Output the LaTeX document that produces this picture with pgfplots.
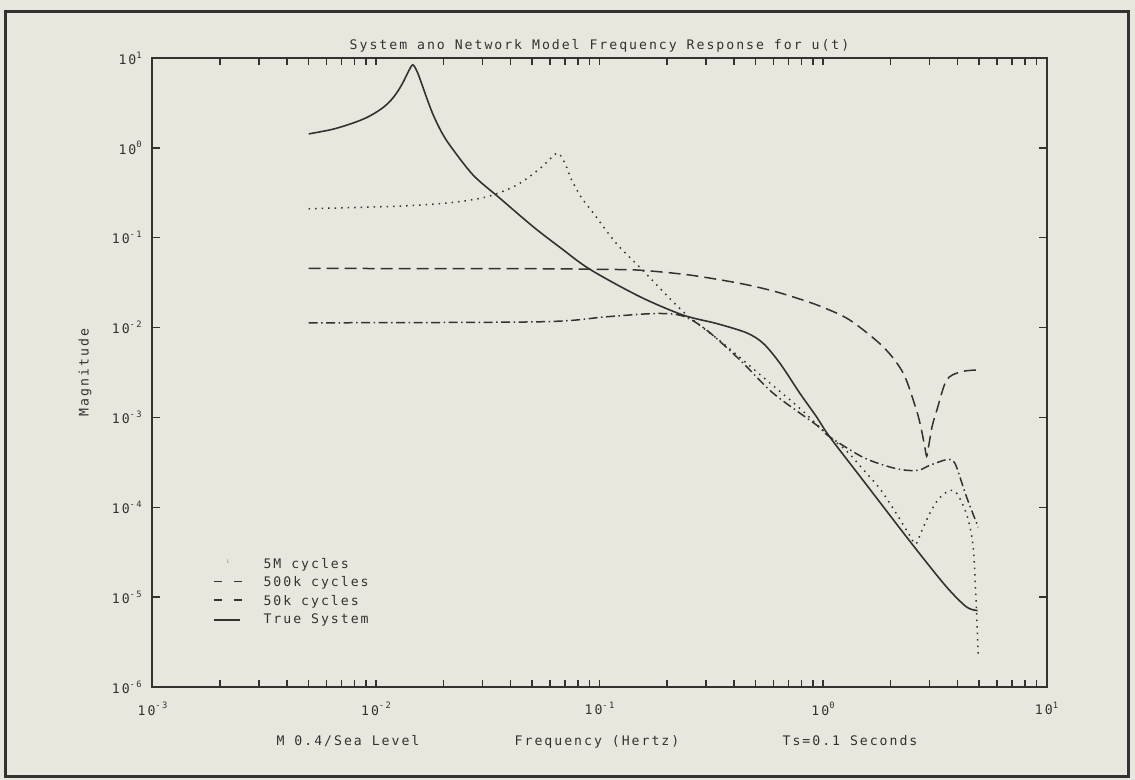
\documentclass[border=0pt]{standalone}
\usepackage{fontspec}
\usepackage{pgfplots}
\pgfplotsset{compat=1.18}
\newfontfamily\plotfont[LetterSpace=15]{DejaVu Sans Mono}
\definecolor{paper}{RGB}{233,231,221}
\definecolor{ink}{RGB}{50,50,50}
\newcommand{\pf}{\plotfont\fontsize{7.5}{9}\selectfont}
\newcommand{\dec}[1]{10\raisebox{0.85ex}{\fontsize{5}{5}\selectfont#1}}

\begin{document}
\begin{tikzpicture}
% paper and frame
\fill[paper] (0,0) rectangle (227mm,-156mm);
\draw[ink, line width=0.6mm] (1mm,-2.4mm) rectangle (225.6mm,-155.2mm);

\begin{axis}[
  at={(30.5mm,-137.4mm)}, anchor=south west,
  width=178.8mm, height=125.8mm, scale only axis,
  xmode=log, ymode=log,
  xmin=1e-3, xmax=10, ymin=1e-6, ymax=10,
  axis line style={ink, line width=0.4mm},
  xtick={1e-3,1e-2,1e-1,1,10},
  xticklabels={\dec{-3},\dec{-2},\dec{-1},\dec{0},\dec{1}},
  minor xtick={2e-3,3e-3,4e-3,5e-3,6e-3,7e-3,8e-3,9e-3,
               0.02,0.03,0.04,0.05,0.06,0.07,0.08,0.09,
               0.2,0.3,0.4,0.5,0.6,0.7,0.8,0.9,
               2,3,4,5,6,7,8,9},
  ytick={1e-6,1e-5,1e-4,1e-3,1e-2,1e-1,1,10},
  yticklabels={\dec{-6},\dec{-5},\dec{-4},\dec{-3},\dec{-2},\dec{-1},\dec{0},\dec{1}},
  yminorticks=false,
  tick style={ink, line width=0.3mm},
  major tick length=1.5mm, minor tick length=1.4mm,
  tick label style={font=\pf, text=ink, inner sep=0pt},
  xticklabel style={anchor=north, yshift=-3mm},
  yticklabel style={anchor=east, xshift=-2.1mm},
  legend style={draw=none, fill=none, at={(0.061,0.211)}, anchor=north west,
    font=\pf, text=ink,
    nodes={inner sep=0pt, text height=2mm, text depth=0.6mm},
    row sep=1.06mm, column sep=4.2mm},
  legend cell align=left,
]

% 5M cycles
\addplot[ink, line width=0.3mm, dash pattern=on 0.3mm off 1.0mm, smooth,
  legend image code/.code={\fill[ink!35] (2.7mm,0.6mm) rectangle (2.85mm,1.2mm);}]
coordinates {
 (0.005,0.21) (0.0128,0.225) (0.0214,0.245) (0.0313,0.285) (0.0426,0.385)
 (0.0542,0.59) (0.0626,0.83) (0.066,0.86) (0.0705,0.65) (0.075,0.44)
 (0.083,0.28) (0.094,0.187) (0.119,0.0863) (0.157,0.0428) (0.237,0.015)
 (0.358,0.00665) (0.56,0.00259) (0.8,0.00122) (1.07,6.1e-4) (1.28,4.2e-4)
 (1.5,2.7e-4) (1.8,1.6e-4) (2.1,9e-5) (2.45,4.8e-5) (2.6,3.9e-5)
 (2.75,5.3e-5) (3.0,8.5e-5) (3.3,1.25e-4) (3.7,1.55e-4) (3.95,1.45e-4)
 (4.2,1.1e-4) (4.45,7.5e-5) (4.7,3.6e-5) (4.85,8e-6) (4.95,2.2e-6)
};
\addlegendentry{5M cycles}

% 500k cycles
\addplot[ink, line width=0.3mm, dash pattern=on 2.4mm off 1.2mm, smooth,
  legend image code/.code={\draw[ink, solid, line width=0.3mm] (0mm,0.3mm) -- (1.6mm,0.3mm) (4mm,0.3mm) -- (5.6mm,0.3mm);}]
coordinates {
 (0.005,0.0455) (0.05,0.0452) (0.1,0.0445) (0.152,0.0435) (0.254,0.0384)
 (0.426,0.031) (0.6,0.0255) (0.8,0.0205) (1.0,0.0168) (1.32,0.0121)
 (1.86,0.0061) (2.29,0.00308) (2.62,0.0012) (2.75,7.5e-4) (2.85,4.8e-4)
 (2.91,3.7e-4) (2.97,4.8e-4) (3.08,8e-4) (3.23,1.2e-3) (3.57,2.6e-3)
 (4.1,3.2e-3) (4.7,3.36e-3) (4.9,3.37e-3)
};
\addlegendentry{500k cycles}

% 50k cycles
\addplot[ink, line width=0.3mm, dash pattern=on 1.8mm off 0.7mm on 0.3mm off 0.7mm, smooth,
  legend image code/.code={\draw[ink, solid, line width=0.3mm] (0mm,0.3mm) -- (1.6mm,0.3mm) (4mm,0.3mm) -- (5.6mm,0.3mm);}]
coordinates {
 (0.005,0.0113) (0.0542,0.0116) (0.1077,0.0132) (0.18,0.01435) (0.237,0.0134)
 (0.302,0.00935) (0.426,0.00434) (0.6,0.00185) (0.937,8.2e-4) (1.07,6.1e-4)
 (1.51,3.6e-4) (2.0,2.8e-4) (2.37,2.58e-4) (2.7,2.6e-4) (3.01,2.94e-4)
 (3.57,3.4e-4) (3.8,3.3e-4) (3.96,2.8e-4) (4.39,1.3e-4) (4.95,6.0e-5)
};
\addlegendentry{50k cycles}

% True System
\addplot[ink, line width=0.32mm, solid, smooth,
  legend image code/.code={\draw[ink, solid, line width=0.45mm] (0mm,0mm) -- (5.2mm,0mm);}]
coordinates {
 (0.005,1.43) (0.0064,1.61) (0.0078,1.87) (0.009,2.15) (0.0101,2.52)
 (0.011,2.94) (0.0118,3.5) (0.0125,4.24) (0.0132,5.33) (0.0139,6.9)
 (0.0146,8.4) (0.0153,7.0) (0.016,5.2) (0.017,3.4) (0.018,2.35) (0.0195,1.55)
 (0.0214,1.07) (0.0272,0.498) (0.0359,0.274) (0.0506,0.132)
 (0.0666,0.078) (0.0907,0.0444) (0.152,0.022) (0.237,0.01375) (0.334,0.0111)
 (0.456,0.00873) (0.541,0.00665) (0.643,0.00398) (0.789,0.00185) (0.937,0.00101)
 (1.07,6.1e-4) (1.51,2.0e-4) (2.53,3.77e-5) (3.57,1.30e-5) (4.39,7.77e-6)
 (4.92,7.1e-6)
};
\addlegendentry{True System}
\end{axis}

% titles and labels
\node[font=\pf, text=ink, anchor=base] at (119.9mm,-10mm)
  {System ano Network Model Frequency Response for u(t)};
\node[font=\pf, text=ink, rotate=90] at (17mm,-74.5mm) {Magnitude};
\node[font=\pf, text=ink, anchor=base] at (69.6mm,-149mm) {M 0.4/Sea Level};
\node[font=\pf, text=ink, anchor=base] at (119.4mm,-149mm) {Frequency (Hertz)};
\node[font=\pf, text=ink, anchor=base] at (170mm,-149mm) {Ts=0.1 Seconds};
\end{tikzpicture}
\end{document}
